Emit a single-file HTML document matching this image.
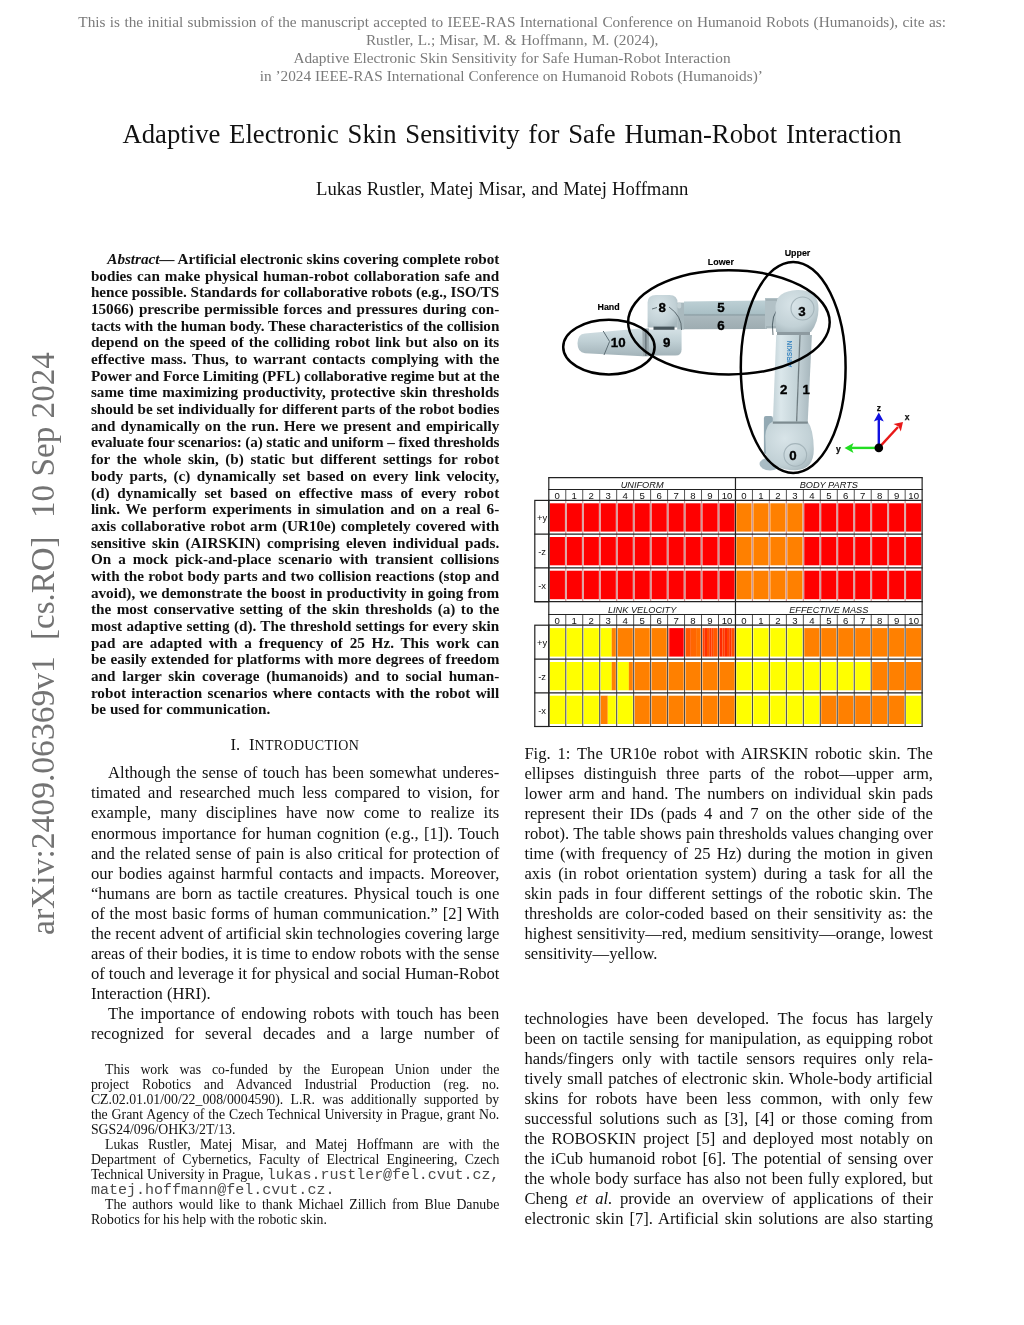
<!DOCTYPE html>
<html><head><meta charset="utf-8"><style>
html,body{margin:0;padding:0;background:#fff;}
body{width:1024px;height:1325px;position:relative;overflow:hidden;color:#111;will-change:transform;}
.j,.n{position:absolute;white-space:nowrap;}
.j{text-align:justify;text-align-last:justify;}
.n{text-align:left;}
.s{font-family:"Liberation Serif", serif;}
.a{font-family:"Liberation Sans", sans-serif;}
.m{font-family:"Liberation Mono", monospace;font-size:1.09em;color:#4a4a4a;}
.arx{position:absolute;font-family:"Liberation Serif", serif;font-size:33.6px;line-height:33.6px;color:#737373;white-space:pre;transform:rotate(-90deg);transform-origin:0 0;}
svg{position:absolute;left:0;top:0;}
</style></head><body>
<div class="j s" style="left:78.30px;top:14.00px;width:867.70px;font-size:15.3px;line-height:15.3px;color:#7a7a7a;">This is the initial submission of the manuscript accepted to IEEE-RAS International Conference on Humanoid Robots (Humanoids), cite as:</div>
<div class="j s" style="left:365.90px;top:32.00px;width:292.50px;font-size:15.3px;line-height:15.3px;color:#7a7a7a;">Rustler, L.; Misar, M. &amp; Hoffmann, M. (2024),</div>
<div class="j s" style="left:293.40px;top:50.00px;width:437.20px;font-size:15.3px;line-height:15.3px;color:#7a7a7a;letter-spacing:-0.020px;">Adaptive Electronic Skin Sensitivity for Safe Human-Robot Interaction</div>
<div class="j s" style="left:259.80px;top:68.00px;width:503.00px;font-size:15.3px;line-height:15.3px;color:#7a7a7a;letter-spacing:-0.020px;">in ’2024 IEEE-RAS International Conference on Humanoid Robots (Humanoids)’</div>
<div class="j s" style="left:122.50px;top:121.00px;width:779.00px;font-size:26.7px;line-height:26.7px;">Adaptive Electronic Skin Sensitivity for Safe Human-Robot Interaction</div>
<div class="j s" style="left:316.10px;top:180.00px;width:372.30px;font-size:18.7px;line-height:18.7px;">Lukas Rustler, Matej Misar, and Matej Hoffmann</div>
<div class="j s" style="left:107.30px;top:251.00px;width:392.00px;font-size:15.2px;line-height:15.2px;font-weight:bold;letter-spacing:-0.033px;"><i>Abstract</i>— Artificial electronic skins covering complete robot</div>
<div class="j s" style="left:90.90px;top:268.00px;width:408.40px;font-size:15.2px;line-height:15.2px;font-weight:bold;">bodies can make physical human-robot collaboration safe and</div>
<div class="j s" style="left:90.90px;top:284.00px;width:408.40px;font-size:15.2px;line-height:15.2px;font-weight:bold;letter-spacing:-0.034px;">hence possible. Standards for collaborative robots (e.g., ISO/TS</div>
<div class="j s" style="left:90.90px;top:301.00px;width:408.40px;font-size:15.2px;line-height:15.2px;font-weight:bold;">15066) prescribe permissible forces and pressures during con-</div>
<div class="j s" style="left:90.90px;top:318.00px;width:408.40px;font-size:15.2px;line-height:15.2px;font-weight:bold;letter-spacing:-0.069px;">tacts with the human body. These characteristics of the collision</div>
<div class="j s" style="left:90.90px;top:334.00px;width:408.40px;font-size:15.2px;line-height:15.2px;font-weight:bold;">depend on the speed of the colliding robot link but also on its</div>
<div class="j s" style="left:90.90px;top:351.00px;width:408.40px;font-size:15.2px;line-height:15.2px;font-weight:bold;">effective mass. Thus, to warrant contacts complying with the</div>
<div class="j s" style="left:90.90px;top:368.00px;width:408.40px;font-size:15.2px;line-height:15.2px;font-weight:bold;letter-spacing:-0.124px;">Power and Force Limiting (PFL) collaborative regime but at the</div>
<div class="j s" style="left:90.90px;top:384.00px;width:408.40px;font-size:15.2px;line-height:15.2px;font-weight:bold;">same time maximizing productivity, protective skin thresholds</div>
<div class="j s" style="left:90.90px;top:401.00px;width:408.40px;font-size:15.2px;line-height:15.2px;font-weight:bold;letter-spacing:-0.035px;">should be set individually for different parts of the robot bodies</div>
<div class="j s" style="left:90.90px;top:418.00px;width:408.40px;font-size:15.2px;line-height:15.2px;font-weight:bold;">and dynamically on the run. Here we present and empirically</div>
<div class="j s" style="left:90.90px;top:434.00px;width:408.40px;font-size:15.2px;line-height:15.2px;font-weight:bold;letter-spacing:-0.147px;">evaluate four scenarios: (a) static and uniform – fixed thresholds</div>
<div class="j s" style="left:90.90px;top:451.00px;width:408.40px;font-size:15.2px;line-height:15.2px;font-weight:bold;">for the whole skin, (b) static but different settings for robot</div>
<div class="j s" style="left:90.90px;top:468.00px;width:408.40px;font-size:15.2px;line-height:15.2px;font-weight:bold;">body parts, (c) dynamically set based on every link velocity,</div>
<div class="j s" style="left:90.90px;top:485.00px;width:408.40px;font-size:15.2px;line-height:15.2px;font-weight:bold;">(d) dynamically set based on effective mass of every robot</div>
<div class="j s" style="left:90.90px;top:501.00px;width:408.40px;font-size:15.2px;line-height:15.2px;font-weight:bold;">link. We perform experiments in simulation and on a real 6-</div>
<div class="j s" style="left:90.90px;top:518.00px;width:408.40px;font-size:15.2px;line-height:15.2px;font-weight:bold;">axis collaborative robot arm (UR10e) completely covered with</div>
<div class="j s" style="left:90.90px;top:535.00px;width:408.40px;font-size:15.2px;line-height:15.2px;font-weight:bold;">sensitive skin (AIRSKIN) comprising eleven individual pads.</div>
<div class="j s" style="left:90.90px;top:551.00px;width:408.40px;font-size:15.2px;line-height:15.2px;font-weight:bold;">On a mock pick-and-place scenario with transient collisions</div>
<div class="j s" style="left:90.90px;top:568.00px;width:408.40px;font-size:15.2px;line-height:15.2px;font-weight:bold;">with the robot body parts and two collision reactions (stop and</div>
<div class="j s" style="left:90.90px;top:585.00px;width:408.40px;font-size:15.2px;line-height:15.2px;font-weight:bold;">avoid), we demonstrate the boost in productivity in going from</div>
<div class="j s" style="left:90.90px;top:601.00px;width:408.40px;font-size:15.2px;line-height:15.2px;font-weight:bold;">the most conservative setting of the skin thresholds (a) to the</div>
<div class="j s" style="left:90.90px;top:618.00px;width:408.40px;font-size:15.2px;line-height:15.2px;font-weight:bold;">most adaptive setting (d). The threshold settings for every skin</div>
<div class="j s" style="left:90.90px;top:635.00px;width:408.40px;font-size:15.2px;line-height:15.2px;font-weight:bold;">pad are adapted with a frequency of 25 Hz. This work can</div>
<div class="j s" style="left:90.90px;top:651.00px;width:408.40px;font-size:15.2px;line-height:15.2px;font-weight:bold;">be easily extended for platforms with more degrees of freedom</div>
<div class="j s" style="left:90.90px;top:668.00px;width:408.40px;font-size:15.2px;line-height:15.2px;font-weight:bold;">and larger skin coverage (humanoids) and to social human-</div>
<div class="j s" style="left:90.90px;top:685.00px;width:408.40px;font-size:15.2px;line-height:15.2px;font-weight:bold;">robot interaction scenarios where contacts with the robot will</div>
<div class="n s" style="left:90.90px;top:701.00px;width:408.40px;font-size:15.2px;line-height:15.2px;font-weight:bold;">be used for communication.</div>
<div class="j s" style="left:230.50px;top:737.00px;width:128.70px;font-size:16.6px;line-height:16.6px;">I. I<span style="font-size:14px;letter-spacing:0.33px">NTRODUCTION</span></div>
<div class="j s" style="left:108.10px;top:765.00px;width:391.20px;font-size:16.6px;line-height:16.6px;">Although the sense of touch has been somewhat underes-</div>
<div class="j s" style="left:90.90px;top:785.00px;width:408.40px;font-size:16.6px;line-height:16.6px;">timated and researched much less compared to vision, for</div>
<div class="j s" style="left:90.90px;top:805.00px;width:408.40px;font-size:16.6px;line-height:16.6px;">example, many disciplines have now come to realize its</div>
<div class="j s" style="left:90.90px;top:826.00px;width:408.40px;font-size:16.6px;line-height:16.6px;">enormous importance for human cognition (e.g., [1]). Touch</div>
<div class="j s" style="left:90.90px;top:846.00px;width:408.40px;font-size:16.6px;line-height:16.6px;">and the related sense of pain is also critical for protection of</div>
<div class="j s" style="left:90.90px;top:866.00px;width:408.40px;font-size:16.6px;line-height:16.6px;">our bodies against harmful contacts and impacts. Moreover,</div>
<div class="j s" style="left:90.90px;top:886.00px;width:408.40px;font-size:16.6px;line-height:16.6px;">“humans are born as tactile creatures. Physical touch is one</div>
<div class="j s" style="left:90.90px;top:906.00px;width:408.40px;font-size:16.6px;line-height:16.6px;">of the most basic forms of human communication.” [2] With</div>
<div class="j s" style="left:90.90px;top:926.00px;width:408.40px;font-size:16.6px;line-height:16.6px;letter-spacing:-0.045px;">the recent advent of artificial skin technologies covering large</div>
<div class="j s" style="left:90.90px;top:946.00px;width:408.40px;font-size:16.6px;line-height:16.6px;letter-spacing:-0.030px;">areas of their bodies, it is time to endow robots with the sense</div>
<div class="j s" style="left:90.90px;top:966.00px;width:408.40px;font-size:16.6px;line-height:16.6px;letter-spacing:-0.031px;">of touch and leverage it for physical and social Human-Robot</div>
<div class="n s" style="left:90.90px;top:986.00px;width:408.40px;font-size:16.6px;line-height:16.6px;">Interaction (HRI).</div>
<div class="j s" style="left:108.10px;top:1006.00px;width:391.20px;font-size:16.6px;line-height:16.6px;">The importance of endowing robots with touch has been</div>
<div class="j s" style="left:90.90px;top:1026.00px;width:408.40px;font-size:16.6px;line-height:16.6px;">recognized for several decades and a large number of</div>
<div class="j s" style="left:105.00px;top:1063.00px;width:394.30px;font-size:13.8px;line-height:13.8px;">This work was co-funded by the European Union under the</div>
<div class="j s" style="left:90.90px;top:1078.00px;width:408.40px;font-size:13.8px;line-height:13.8px;">project Robotics and Advanced Industrial Production (reg. no.</div>
<div class="j s" style="left:90.90px;top:1093.00px;width:408.40px;font-size:13.8px;line-height:13.8px;">CZ.02.01.01/00/22_008/0004590). L.R. was additionally supported by</div>
<div class="j s" style="left:90.90px;top:1108.00px;width:408.40px;font-size:13.8px;line-height:13.8px;">the Grant Agency of the Czech Technical University in Prague, grant No.</div>
<div class="n s" style="left:90.90px;top:1123.00px;width:408.40px;font-size:13.8px;line-height:13.8px;">SGS24/096/OHK3/2T/13.</div>
<div class="j s" style="left:105.00px;top:1138.00px;width:394.30px;font-size:13.8px;line-height:13.8px;">Lukas Rustler, Matej Misar, and Matej Hoffmann are with the</div>
<div class="j s" style="left:90.90px;top:1153.00px;width:408.40px;font-size:13.8px;line-height:13.8px;">Department of Cybernetics, Faculty of Electrical Engineering, Czech</div>
<div class="j s" style="left:90.90px;top:1168.00px;width:408.40px;font-size:13.8px;line-height:13.8px;letter-spacing:-0.081px;">Technical University in Prague, <span class="m">lukas.rustler@fel.cvut.cz,</span></div>
<div class="n s" style="left:90.90px;top:1183.00px;width:408.40px;font-size:13.8px;line-height:13.8px;"><span class="m">matej.hoffmann@fel.cvut.cz.</span></div>
<div class="j s" style="left:105.00px;top:1198.00px;width:394.30px;font-size:13.8px;line-height:13.8px;">The authors would like to thank Michael Zillich from Blue Danube</div>
<div class="n s" style="left:90.90px;top:1213.00px;width:408.40px;font-size:13.8px;line-height:13.8px;">Robotics for his help with the robotic skin.</div>
<div class="j s" style="left:524.40px;top:746.00px;width:408.60px;font-size:16.6px;line-height:16.6px;">Fig. 1: The UR10e robot with AIRSKIN robotic skin. The</div>
<div class="j s" style="left:524.40px;top:766.00px;width:408.60px;font-size:16.6px;line-height:16.6px;">ellipses distinguish three parts of the robot—upper arm,</div>
<div class="j s" style="left:524.40px;top:786.00px;width:408.60px;font-size:16.6px;line-height:16.6px;">lower arm and hand. The numbers on individual skin pads</div>
<div class="j s" style="left:524.40px;top:806.00px;width:408.60px;font-size:16.6px;line-height:16.6px;">represent their IDs (pads 4 and 7 on the other side of the</div>
<div class="j s" style="left:524.40px;top:826.00px;width:408.60px;font-size:16.6px;line-height:16.6px;">robot). The table shows pain thresholds values changing over</div>
<div class="j s" style="left:524.40px;top:846.00px;width:408.60px;font-size:16.6px;line-height:16.6px;">time (with frequency of 25 Hz) during the motion in given</div>
<div class="j s" style="left:524.40px;top:866.00px;width:408.60px;font-size:16.6px;line-height:16.6px;">axis (in robot orientation system) during a task for all the</div>
<div class="j s" style="left:524.40px;top:886.00px;width:408.60px;font-size:16.6px;line-height:16.6px;">skin pads in four different settings of the robotic skin. The</div>
<div class="j s" style="left:524.40px;top:906.00px;width:408.60px;font-size:16.6px;line-height:16.6px;">thresholds are color-coded based on their sensitivity as: the</div>
<div class="j s" style="left:524.40px;top:926.00px;width:408.60px;font-size:16.6px;line-height:16.6px;">highest sensitivity—red, medium sensitivity—orange, lowest</div>
<div class="n s" style="left:524.40px;top:946.00px;width:408.60px;font-size:16.6px;line-height:16.6px;">sensitivity—yellow.</div>
<div class="j s" style="left:524.40px;top:1011.00px;width:408.60px;font-size:16.6px;line-height:16.6px;">technologies have been developed. The focus has largely</div>
<div class="j s" style="left:524.40px;top:1031.00px;width:408.60px;font-size:16.6px;line-height:16.6px;">been on tactile sensing for manipulation, as equipping robot</div>
<div class="j s" style="left:524.40px;top:1051.00px;width:408.60px;font-size:16.6px;line-height:16.6px;">hands/fingers only with tactile sensors requires only rela-</div>
<div class="j s" style="left:524.40px;top:1071.00px;width:408.60px;font-size:16.6px;line-height:16.6px;">tively small patches of electronic skin. Whole-body artificial</div>
<div class="j s" style="left:524.40px;top:1091.00px;width:408.60px;font-size:16.6px;line-height:16.6px;">skins for robots have been less common, with only few</div>
<div class="j s" style="left:524.40px;top:1111.00px;width:408.60px;font-size:16.6px;line-height:16.6px;">successful solutions such as [3], [4] or those coming from</div>
<div class="j s" style="left:524.40px;top:1131.00px;width:408.60px;font-size:16.6px;line-height:16.6px;">the ROBOSKIN project [5] and deployed most notably on</div>
<div class="j s" style="left:524.40px;top:1151.00px;width:408.60px;font-size:16.6px;line-height:16.6px;">the iCub humanoid robot [6]. The potential of sensing over</div>
<div class="j s" style="left:524.40px;top:1171.00px;width:408.60px;font-size:16.6px;line-height:16.6px;">the whole body surface has also not been fully explored, but</div>
<div class="j s" style="left:524.40px;top:1191.00px;width:408.60px;font-size:16.6px;line-height:16.6px;">Cheng <i>et al.</i> provide an overview of applications of their</div>
<div class="j s" style="left:524.40px;top:1211.00px;width:408.60px;font-size:16.6px;line-height:16.6px;">electronic skin [7]. Artificial skin solutions are also starting</div>
<div class="arx" style="left:25.5px;top:935.3px">arXiv:2409.06369v1</div><div class="arx" style="left:26.6px;top:640.3px;font-size:33px;line-height:33px">[cs.RO]</div><div class="arx" style="left:25.6px;top:518.2px;font-size:33.2px;line-height:33.2px">10 Sep 2024</div>
<svg width="1024" height="1325" viewBox="0 0 1024 1325">

<defs>
<linearGradient id="gv" x1="0" y1="0" x2="0" y2="1">
<stop offset="0" stop-color="#d3e0e4"/><stop offset="0.45" stop-color="#c0d0d5"/><stop offset="1" stop-color="#a3b3b9"/>
</linearGradient>
<linearGradient id="gt" x1="0" y1="0" x2="0" y2="1">
<stop offset="0" stop-color="#bdd0d5"/><stop offset="0.45" stop-color="#aac0c6"/><stop offset="0.5" stop-color="#8d9fa5"/><stop offset="0.55" stop-color="#aab8bd"/><stop offset="1" stop-color="#9dacb1"/>
</linearGradient>
<linearGradient id="gl" x1="0" y1="0" x2="1" y2="0">
<stop offset="0" stop-color="#c2d2d7"/><stop offset="0.3" stop-color="#dbe7eb"/><stop offset="1" stop-color="#bfcfd4"/>
</linearGradient>
<linearGradient id="grr" x1="0" y1="0" x2="1" y2="0">
<stop offset="0" stop-color="#c6d4d9"/><stop offset="1" stop-color="#a5b5bb"/>
</linearGradient>
<radialGradient id="gr" cx="0.4" cy="0.35" r="0.75">
<stop offset="0" stop-color="#d8e4e8"/><stop offset="0.7" stop-color="#c2d1d6"/><stop offset="1" stop-color="#a7b7bd"/>
</radialGradient>
</defs>
<!-- hand -->
<path d="M585 333.4 Q577.5 334 577.5 343.3 Q577.5 352.6 585 353.2 L642.5 356.3 L642.5 328.3 Z" fill="url(#gv)"/>
<path d="M603.2 331 L609.6 341.5 L604 355" fill="none" stroke="#5d6d74" stroke-width="1"/>
<rect x="642.3" y="328.4" width="6.8" height="27.9" fill="#9aa8ad"/>
<rect x="645" y="329" width="1.6" height="27" fill="#6f7c82"/>
<!-- joint 9 -->
<path d="M648.9 329.6 L681.6 329.6 L681.6 349.5 Q681.6 355.6 675.5 355.6 L648.9 355.6 Z" fill="url(#gv)"/>
<!-- joint 8 -->
<path d="M647.6 302.5 Q647.6 295 656 295 L669.5 295 Q677.5 295 677.5 303 L677.5 327.4 L647.6 327.4 Z" fill="url(#gr)"/>
<rect x="653.5" y="326.6" width="21" height="3.2" fill="#46545a"/>
<!-- connector -->
<rect x="677.2" y="302.6" width="7" height="27" fill="#a9b9be"/>
<rect x="677.2" y="302.6" width="4" height="6" rx="2" fill="#c4d1d5"/>
<!-- lower arm tube -->
<path d="M684 301.5 L767 300.5 L767 329 L684 329.3 Z" fill="url(#gt)"/>
<path d="M669 307 Q682 316 681.5 330" fill="none" stroke="#46545a" stroke-width="0.8"/>
<path d="M657 307.5 L652 309" fill="none" stroke="#46545a" stroke-width="0.8"/>
<!-- connector to joint3 -->
<rect x="765" y="298" width="13" height="30.5" fill="#b2c1c6"/>
<path d="M766 300 L777 300 L777 327 L766 327" fill="none" stroke="#8d9ca1" stroke-width="0.8"/>
<path d="M781 307 Q770 313 773 335" fill="none" stroke="#394a52" stroke-width="0.8"/>
<!-- upper arm -->
<path d="M776.2 335 L799.6 335 L796.2 424.8 L772.8 424.8 Z" fill="url(#gl)"/>
<path d="M800.2 335 L811.9 335 L807.6 424.8 L796.8 424.8 Z" fill="url(#grr)"/>
<line x1="800" y1="335" x2="796.5" y2="424.8" stroke="#6e7c81" stroke-width="1.3"/>
<rect x="777" y="332" width="33" height="3" fill="#8d9aa0"/>
<!-- joint 3 -->
<path d="M776 331.9 L775.5 306 Q776.5 291 797 290 Q818.5 289.5 818.5 309 Q818.5 322 811 331.9 Z" fill="url(#gr)"/>
<circle cx="802.5" cy="308.5" r="11.5" fill="none" stroke="#a4b4ba" stroke-width="1.1"/>
<!-- base -->
<rect x="763.9" y="415.9" width="9" height="38" rx="2" fill="#93a9b3"/>
<ellipse cx="770" cy="464" rx="10.5" ry="6.5" fill="#a9bcc5"/>
<path d="M772.8 421.4 L807.6 421.4 Q813.5 429 813.8 449 Q814 470 795 470.2 Q774 470.5 766 455 L765.3 436 Q766 424 772.8 421.4 Z" fill="url(#gr)"/>
<rect x="772.8" y="421.5" width="35" height="2.2" fill="#7d8b90"/>
<circle cx="795.3" cy="454.9" r="11.3" fill="none" stroke="#a4b4ba" stroke-width="1.1"/>
<text x="789.5" y="354" font-family="Liberation Sans" font-size="6.5" font-weight="bold" fill="#3a86c0" transform="rotate(-90 789.5 354)" text-anchor="middle" dy="2.3">AIRSKIN</text>

<text x="618.2" y="347.1" font-family="Liberation Sans" font-size="13.3" font-weight="bold" fill="#000" stroke="#000" stroke-width="0.35" text-anchor="middle">10</text>
<text x="666.6" y="347.1" font-family="Liberation Sans" font-size="13.3" font-weight="bold" fill="#000" stroke="#000" stroke-width="0.35" text-anchor="middle">9</text>
<text x="662.3" y="312.1" font-family="Liberation Sans" font-size="13.3" font-weight="bold" fill="#000" stroke="#000" stroke-width="0.35" text-anchor="middle">8</text>
<text x="721" y="311.6" font-family="Liberation Sans" font-size="13.3" font-weight="bold" fill="#000" stroke="#000" stroke-width="0.35" text-anchor="middle">5</text>
<text x="721" y="329.6" font-family="Liberation Sans" font-size="13.3" font-weight="bold" fill="#000" stroke="#000" stroke-width="0.35" text-anchor="middle">6</text>
<text x="802" y="315.6" font-family="Liberation Sans" font-size="13.3" font-weight="bold" fill="#000" stroke="#000" stroke-width="0.35" text-anchor="middle">3</text>
<text x="783.6" y="393.6" font-family="Liberation Sans" font-size="13.3" font-weight="bold" fill="#000" stroke="#000" stroke-width="0.35" text-anchor="middle">2</text>
<text x="806.2" y="393.6" font-family="Liberation Sans" font-size="13.3" font-weight="bold" fill="#000" stroke="#000" stroke-width="0.35" text-anchor="middle">1</text>
<text x="793" y="459.8" font-family="Liberation Sans" font-size="13.3" font-weight="bold" fill="#000" stroke="#000" stroke-width="0.35" text-anchor="middle">0</text>
<text x="608.6" y="310.3" font-family="Liberation Sans" font-size="8.9" font-weight="bold" fill="#000" stroke="#000" stroke-width="0.15" text-anchor="middle">Hand</text>
<text x="720.9" y="265" font-family="Liberation Sans" font-size="8.9" font-weight="bold" fill="#000" stroke="#000" stroke-width="0.15" text-anchor="middle">Lower</text>
<text x="797.5" y="256.1" font-family="Liberation Sans" font-size="8.9" font-weight="bold" fill="#000" stroke="#000" stroke-width="0.15" text-anchor="middle">Upper</text>

<ellipse cx="608.9" cy="347.1" rx="45.7" ry="27.3" fill="none" stroke="#000" stroke-width="2.5"/>
<ellipse cx="728.9" cy="322.3" rx="100.8" ry="52.1" fill="none" stroke="#000" stroke-width="2.5"/>
<ellipse cx="793.2" cy="367.4" rx="52.4" ry="105.5" fill="none" stroke="#000" stroke-width="2.5"/>


<line x1="878.8" y1="447.9" x2="878.8" y2="418" stroke="#1010e0" stroke-width="2.4"/>
<path d="M873.8 421.5 L878.8 412.5 L883.8 421.5 L878.8 419.5 Z" fill="#1010e0"/>
<line x1="878.8" y1="447.9" x2="850" y2="447.9" stroke="#22dd22" stroke-width="2.4"/>
<path d="M853.5 442.9 L844.5 447.9 L853.5 452.9 L851.5 447.9 Z" fill="#22dd22"/>
<line x1="878.8" y1="447.9" x2="898" y2="427" stroke="#e81818" stroke-width="2.4"/>
<path d="M893.5 424 L903 422 L900.8 431.5 L898.5 426.5 Z" fill="#e81818"/>
<circle cx="878.8" cy="447.9" r="4.3" fill="#000"/>
<text x="878.8" y="410.5" font-family="Liberation Sans" font-size="8.5" font-weight="bold" fill="#111" stroke="#111" stroke-width="0.25" text-anchor="middle">z</text>
<text x="838.3" y="451.5" font-family="Liberation Sans" font-size="8.5" font-weight="bold" fill="#111" stroke="#111" stroke-width="0.25" text-anchor="middle">y</text>
<text x="907" y="420" font-family="Liberation Sans" font-size="8.5" font-weight="bold" fill="#111" stroke="#111" stroke-width="0.25" text-anchor="middle">x</text>

<rect x="548.80" y="477.60" width="373.34" height="124.10" fill="#fff"/>
<rect x="549.70" y="503.30" width="15.22" height="28.30" fill="#ff0000"/>
<rect x="566.67" y="503.30" width="15.22" height="28.30" fill="#ff0000"/>
<rect x="583.64" y="503.30" width="15.22" height="28.30" fill="#ff0000"/>
<rect x="600.61" y="503.30" width="15.22" height="28.30" fill="#ff0000"/>
<rect x="617.58" y="503.30" width="15.22" height="28.30" fill="#ff0000"/>
<rect x="634.55" y="503.30" width="15.22" height="28.30" fill="#ff0000"/>
<rect x="651.52" y="503.30" width="15.22" height="28.30" fill="#ff0000"/>
<rect x="668.49" y="503.30" width="15.22" height="28.30" fill="#ff0000"/>
<rect x="685.46" y="503.30" width="15.22" height="28.30" fill="#ff0000"/>
<rect x="702.43" y="503.30" width="15.22" height="28.30" fill="#ff0000"/>
<rect x="719.40" y="503.30" width="15.22" height="28.30" fill="#ff0000"/>
<rect x="736.37" y="503.30" width="15.22" height="28.30" fill="#ff8000"/>
<rect x="753.34" y="503.30" width="15.22" height="28.30" fill="#ff8000"/>
<rect x="770.31" y="503.30" width="15.22" height="28.30" fill="#ff8000"/>
<rect x="787.28" y="503.30" width="15.22" height="28.30" fill="#ff8000"/>
<rect x="804.25" y="503.30" width="15.22" height="28.30" fill="#ff0000"/>
<rect x="821.22" y="503.30" width="15.22" height="28.30" fill="#ff0000"/>
<rect x="838.19" y="503.30" width="15.22" height="28.30" fill="#ff0000"/>
<rect x="855.16" y="503.30" width="15.22" height="28.30" fill="#ff0000"/>
<rect x="872.13" y="503.30" width="15.22" height="28.30" fill="#ff0000"/>
<rect x="889.10" y="503.30" width="15.22" height="28.30" fill="#ff0000"/>
<rect x="906.07" y="503.30" width="15.22" height="28.30" fill="#ff0000"/>
<rect x="549.70" y="537.00" width="15.22" height="28.30" fill="#ff0000"/>
<rect x="566.67" y="537.00" width="15.22" height="28.30" fill="#ff0000"/>
<rect x="583.64" y="537.00" width="15.22" height="28.30" fill="#ff0000"/>
<rect x="600.61" y="537.00" width="15.22" height="28.30" fill="#ff0000"/>
<rect x="617.58" y="537.00" width="15.22" height="28.30" fill="#ff0000"/>
<rect x="634.55" y="537.00" width="15.22" height="28.30" fill="#ff0000"/>
<rect x="651.52" y="537.00" width="15.22" height="28.30" fill="#ff0000"/>
<rect x="668.49" y="537.00" width="15.22" height="28.30" fill="#ff0000"/>
<rect x="685.46" y="537.00" width="15.22" height="28.30" fill="#ff0000"/>
<rect x="702.43" y="537.00" width="15.22" height="28.30" fill="#ff0000"/>
<rect x="719.40" y="537.00" width="15.22" height="28.30" fill="#ff0000"/>
<rect x="736.37" y="537.00" width="15.22" height="28.30" fill="#ff8000"/>
<rect x="753.34" y="537.00" width="15.22" height="28.30" fill="#ff8000"/>
<rect x="770.31" y="537.00" width="15.22" height="28.30" fill="#ff8000"/>
<rect x="787.28" y="537.00" width="15.22" height="28.30" fill="#ff8000"/>
<rect x="804.25" y="537.00" width="15.22" height="28.30" fill="#ff0000"/>
<rect x="821.22" y="537.00" width="15.22" height="28.30" fill="#ff0000"/>
<rect x="838.19" y="537.00" width="15.22" height="28.30" fill="#ff0000"/>
<rect x="855.16" y="537.00" width="15.22" height="28.30" fill="#ff0000"/>
<rect x="872.13" y="537.00" width="15.22" height="28.30" fill="#ff0000"/>
<rect x="889.10" y="537.00" width="15.22" height="28.30" fill="#ff0000"/>
<rect x="906.07" y="537.00" width="15.22" height="28.30" fill="#ff0000"/>
<rect x="549.70" y="570.70" width="15.22" height="28.50" fill="#ff0000"/>
<rect x="566.67" y="570.70" width="15.22" height="28.50" fill="#ff0000"/>
<rect x="583.64" y="570.70" width="15.22" height="28.50" fill="#ff0000"/>
<rect x="600.61" y="570.70" width="15.22" height="28.50" fill="#ff0000"/>
<rect x="617.58" y="570.70" width="15.22" height="28.50" fill="#ff0000"/>
<rect x="634.55" y="570.70" width="15.22" height="28.50" fill="#ff0000"/>
<rect x="651.52" y="570.70" width="15.22" height="28.50" fill="#ff0000"/>
<rect x="668.49" y="570.70" width="15.22" height="28.50" fill="#ff0000"/>
<rect x="685.46" y="570.70" width="15.22" height="28.50" fill="#ff0000"/>
<rect x="702.43" y="570.70" width="15.22" height="28.50" fill="#ff0000"/>
<rect x="719.40" y="570.70" width="15.22" height="28.50" fill="#ff0000"/>
<rect x="736.37" y="570.70" width="15.22" height="28.50" fill="#ff8000"/>
<rect x="753.34" y="570.70" width="15.22" height="28.50" fill="#ff8000"/>
<rect x="770.31" y="570.70" width="15.22" height="28.50" fill="#ff8000"/>
<rect x="787.28" y="570.70" width="15.22" height="28.50" fill="#ff8000"/>
<rect x="804.25" y="570.70" width="15.22" height="28.50" fill="#ff0000"/>
<rect x="821.22" y="570.70" width="15.22" height="28.50" fill="#ff0000"/>
<rect x="838.19" y="570.70" width="15.22" height="28.50" fill="#ff0000"/>
<rect x="855.16" y="570.70" width="15.22" height="28.50" fill="#ff0000"/>
<rect x="872.13" y="570.70" width="15.22" height="28.50" fill="#ff0000"/>
<rect x="889.10" y="570.70" width="15.22" height="28.50" fill="#ff0000"/>
<rect x="906.07" y="570.70" width="15.22" height="28.50" fill="#ff0000"/>
<line x1="565.77" y1="489.50" x2="565.77" y2="500.40" stroke="#555" stroke-width="1"/>
<line x1="565.77" y1="500.40" x2="565.77" y2="601.70" stroke="#c99" stroke-width="1.2"/>
<line x1="582.74" y1="489.50" x2="582.74" y2="500.40" stroke="#555" stroke-width="1"/>
<line x1="582.74" y1="500.40" x2="582.74" y2="601.70" stroke="#c99" stroke-width="1.2"/>
<line x1="599.71" y1="489.50" x2="599.71" y2="500.40" stroke="#555" stroke-width="1"/>
<line x1="599.71" y1="500.40" x2="599.71" y2="601.70" stroke="#c99" stroke-width="1.2"/>
<line x1="616.68" y1="489.50" x2="616.68" y2="500.40" stroke="#555" stroke-width="1"/>
<line x1="616.68" y1="500.40" x2="616.68" y2="601.70" stroke="#c99" stroke-width="1.2"/>
<line x1="633.65" y1="489.50" x2="633.65" y2="500.40" stroke="#555" stroke-width="1"/>
<line x1="633.65" y1="500.40" x2="633.65" y2="601.70" stroke="#c99" stroke-width="1.2"/>
<line x1="650.62" y1="489.50" x2="650.62" y2="500.40" stroke="#555" stroke-width="1"/>
<line x1="650.62" y1="500.40" x2="650.62" y2="601.70" stroke="#c99" stroke-width="1.2"/>
<line x1="667.59" y1="489.50" x2="667.59" y2="500.40" stroke="#555" stroke-width="1"/>
<line x1="667.59" y1="500.40" x2="667.59" y2="601.70" stroke="#c99" stroke-width="1.2"/>
<line x1="684.56" y1="489.50" x2="684.56" y2="500.40" stroke="#555" stroke-width="1"/>
<line x1="684.56" y1="500.40" x2="684.56" y2="601.70" stroke="#c99" stroke-width="1.2"/>
<line x1="701.53" y1="489.50" x2="701.53" y2="500.40" stroke="#555" stroke-width="1"/>
<line x1="701.53" y1="500.40" x2="701.53" y2="601.70" stroke="#c99" stroke-width="1.2"/>
<line x1="718.50" y1="489.50" x2="718.50" y2="500.40" stroke="#555" stroke-width="1"/>
<line x1="718.50" y1="500.40" x2="718.50" y2="601.70" stroke="#c99" stroke-width="1.2"/>
<line x1="752.44" y1="489.50" x2="752.44" y2="500.40" stroke="#555" stroke-width="1"/>
<line x1="752.44" y1="500.40" x2="752.44" y2="601.70" stroke="#c99" stroke-width="1.2"/>
<line x1="769.41" y1="489.50" x2="769.41" y2="500.40" stroke="#555" stroke-width="1"/>
<line x1="769.41" y1="500.40" x2="769.41" y2="601.70" stroke="#c99" stroke-width="1.2"/>
<line x1="786.38" y1="489.50" x2="786.38" y2="500.40" stroke="#555" stroke-width="1"/>
<line x1="786.38" y1="500.40" x2="786.38" y2="601.70" stroke="#c99" stroke-width="1.2"/>
<line x1="803.35" y1="489.50" x2="803.35" y2="500.40" stroke="#555" stroke-width="1"/>
<line x1="803.35" y1="500.40" x2="803.35" y2="601.70" stroke="#c99" stroke-width="1.2"/>
<line x1="820.32" y1="489.50" x2="820.32" y2="500.40" stroke="#555" stroke-width="1"/>
<line x1="820.32" y1="500.40" x2="820.32" y2="601.70" stroke="#c99" stroke-width="1.2"/>
<line x1="837.29" y1="489.50" x2="837.29" y2="500.40" stroke="#555" stroke-width="1"/>
<line x1="837.29" y1="500.40" x2="837.29" y2="601.70" stroke="#c99" stroke-width="1.2"/>
<line x1="854.26" y1="489.50" x2="854.26" y2="500.40" stroke="#555" stroke-width="1"/>
<line x1="854.26" y1="500.40" x2="854.26" y2="601.70" stroke="#c99" stroke-width="1.2"/>
<line x1="871.23" y1="489.50" x2="871.23" y2="500.40" stroke="#555" stroke-width="1"/>
<line x1="871.23" y1="500.40" x2="871.23" y2="601.70" stroke="#c99" stroke-width="1.2"/>
<line x1="888.20" y1="489.50" x2="888.20" y2="500.40" stroke="#555" stroke-width="1"/>
<line x1="888.20" y1="500.40" x2="888.20" y2="601.70" stroke="#c99" stroke-width="1.2"/>
<line x1="905.17" y1="489.50" x2="905.17" y2="500.40" stroke="#555" stroke-width="1"/>
<line x1="905.17" y1="500.40" x2="905.17" y2="601.70" stroke="#c99" stroke-width="1.2"/>
<rect x="534.80" y="500.40" width="14.00" height="101.30" fill="#fff" stroke="#222" stroke-width="1.2"/>
<line x1="548.20" y1="477.60" x2="922.74" y2="477.60" stroke="#222" stroke-width="1.2"/>
<line x1="548.20" y1="489.50" x2="922.74" y2="489.50" stroke="#222" stroke-width="1.2"/>
<line x1="548.20" y1="500.40" x2="922.74" y2="500.40" stroke="#222" stroke-width="1.2"/>
<line x1="534.20" y1="534.10" x2="922.74" y2="534.10" stroke="#222" stroke-width="1.2"/>
<line x1="534.20" y1="567.80" x2="922.74" y2="567.80" stroke="#222" stroke-width="1.2"/>
<line x1="534.20" y1="601.70" x2="922.74" y2="601.70" stroke="#222" stroke-width="1.2"/>
<line x1="548.80" y1="477.60" x2="548.80" y2="601.70" stroke="#222" stroke-width="1.2"/>
<line x1="735.47" y1="477.60" x2="735.47" y2="601.70" stroke="#222" stroke-width="1.2"/>
<line x1="922.14" y1="477.60" x2="922.14" y2="601.70" stroke="#222" stroke-width="1.2"/>
<text x="642.13" y="487.50" font-family="Liberation Sans" font-size="9.2" font-weight="normal" font-style="italic" fill="#111" text-anchor="middle">UNIFORM</text>
<text x="557.28" y="499.00" font-family="Liberation Sans" font-size="9.6" font-weight="normal" font-style="normal" fill="#111" text-anchor="middle">0</text>
<text x="574.25" y="499.00" font-family="Liberation Sans" font-size="9.6" font-weight="normal" font-style="normal" fill="#111" text-anchor="middle">1</text>
<text x="591.23" y="499.00" font-family="Liberation Sans" font-size="9.6" font-weight="normal" font-style="normal" fill="#111" text-anchor="middle">2</text>
<text x="608.19" y="499.00" font-family="Liberation Sans" font-size="9.6" font-weight="normal" font-style="normal" fill="#111" text-anchor="middle">3</text>
<text x="625.16" y="499.00" font-family="Liberation Sans" font-size="9.6" font-weight="normal" font-style="normal" fill="#111" text-anchor="middle">4</text>
<text x="642.13" y="499.00" font-family="Liberation Sans" font-size="9.6" font-weight="normal" font-style="normal" fill="#111" text-anchor="middle">5</text>
<text x="659.10" y="499.00" font-family="Liberation Sans" font-size="9.6" font-weight="normal" font-style="normal" fill="#111" text-anchor="middle">6</text>
<text x="676.07" y="499.00" font-family="Liberation Sans" font-size="9.6" font-weight="normal" font-style="normal" fill="#111" text-anchor="middle">7</text>
<text x="693.04" y="499.00" font-family="Liberation Sans" font-size="9.6" font-weight="normal" font-style="normal" fill="#111" text-anchor="middle">8</text>
<text x="710.01" y="499.00" font-family="Liberation Sans" font-size="9.6" font-weight="normal" font-style="normal" fill="#111" text-anchor="middle">9</text>
<text x="726.99" y="499.00" font-family="Liberation Sans" font-size="9.6" font-weight="normal" font-style="normal" fill="#111" text-anchor="middle">10</text>
<text x="828.80" y="487.50" font-family="Liberation Sans" font-size="9.2" font-weight="normal" font-style="italic" fill="#111" text-anchor="middle">BODY PARTS</text>
<text x="743.95" y="499.00" font-family="Liberation Sans" font-size="9.6" font-weight="normal" font-style="normal" fill="#111" text-anchor="middle">0</text>
<text x="760.92" y="499.00" font-family="Liberation Sans" font-size="9.6" font-weight="normal" font-style="normal" fill="#111" text-anchor="middle">1</text>
<text x="777.89" y="499.00" font-family="Liberation Sans" font-size="9.6" font-weight="normal" font-style="normal" fill="#111" text-anchor="middle">2</text>
<text x="794.86" y="499.00" font-family="Liberation Sans" font-size="9.6" font-weight="normal" font-style="normal" fill="#111" text-anchor="middle">3</text>
<text x="811.83" y="499.00" font-family="Liberation Sans" font-size="9.6" font-weight="normal" font-style="normal" fill="#111" text-anchor="middle">4</text>
<text x="828.80" y="499.00" font-family="Liberation Sans" font-size="9.6" font-weight="normal" font-style="normal" fill="#111" text-anchor="middle">5</text>
<text x="845.77" y="499.00" font-family="Liberation Sans" font-size="9.6" font-weight="normal" font-style="normal" fill="#111" text-anchor="middle">6</text>
<text x="862.75" y="499.00" font-family="Liberation Sans" font-size="9.6" font-weight="normal" font-style="normal" fill="#111" text-anchor="middle">7</text>
<text x="879.71" y="499.00" font-family="Liberation Sans" font-size="9.6" font-weight="normal" font-style="normal" fill="#111" text-anchor="middle">8</text>
<text x="896.68" y="499.00" font-family="Liberation Sans" font-size="9.6" font-weight="normal" font-style="normal" fill="#111" text-anchor="middle">9</text>
<text x="913.65" y="499.00" font-family="Liberation Sans" font-size="9.6" font-weight="normal" font-style="normal" fill="#111" text-anchor="middle">10</text>
<text x="542.10" y="521.45" font-family="Liberation Sans" font-size="9.4" font-weight="normal" font-style="normal" fill="#111" text-anchor="middle">+y</text>
<text x="542.10" y="555.15" font-family="Liberation Sans" font-size="9.4" font-weight="normal" font-style="normal" fill="#111" text-anchor="middle">-z</text>
<text x="542.10" y="588.95" font-family="Liberation Sans" font-size="9.4" font-weight="normal" font-style="normal" fill="#111" text-anchor="middle">-x</text>
<rect x="548.80" y="601.70" width="373.34" height="124.80" fill="#fff"/>
<rect x="549.70" y="628.10" width="15.22" height="28.50" fill="#ffff00"/>
<rect x="566.67" y="628.10" width="15.22" height="28.50" fill="#ffff00"/>
<rect x="583.64" y="628.10" width="15.22" height="28.50" fill="#ffff00"/>
<rect x="600.61" y="628.10" width="11.12" height="28.50" fill="#ffff00"/>
<rect x="611.68" y="628.10" width="4.15" height="28.50" fill="#ff8000"/>
<rect x="617.58" y="628.10" width="15.22" height="28.50" fill="#ff8000"/>
<rect x="634.55" y="628.10" width="15.22" height="28.50" fill="#ff8000"/>
<rect x="651.52" y="628.10" width="15.22" height="28.50" fill="#ff8000"/>
<rect x="668.49" y="628.10" width="1.26" height="28.50" fill="#ff2000"/>
<rect x="669.70" y="628.10" width="14.01" height="28.50" fill="#ff0000"/>
<rect x="685.46" y="628.10" width="5.36" height="28.50" fill="#ff5500"/>
<rect x="690.77" y="628.10" width="5.36" height="28.50" fill="#ff6600"/>
<rect x="696.08" y="628.10" width="4.60" height="28.50" fill="#ff7000"/>
<rect x="702.43" y="628.10" width="2.33" height="28.50" fill="#ff4400"/>
<rect x="704.71" y="628.10" width="2.33" height="28.50" fill="#ff3000"/>
<rect x="706.98" y="628.10" width="2.33" height="28.50" fill="#ff5000"/>
<rect x="709.26" y="628.10" width="2.33" height="28.50" fill="#ff3500"/>
<rect x="711.53" y="628.10" width="2.33" height="28.50" fill="#ff4a00"/>
<rect x="713.81" y="628.10" width="3.84" height="28.50" fill="#ff5a00"/>
<rect x="719.40" y="628.10" width="3.08" height="28.50" fill="#ff2a00"/>
<rect x="722.43" y="628.10" width="2.33" height="28.50" fill="#ff4000"/>
<rect x="724.71" y="628.10" width="2.33" height="28.50" fill="#ff2a00"/>
<rect x="726.99" y="628.10" width="2.33" height="28.50" fill="#ff4500"/>
<rect x="729.26" y="628.10" width="2.33" height="28.50" fill="#ff3000"/>
<rect x="731.54" y="628.10" width="3.08" height="28.50" fill="#ff5000"/>
<rect x="736.37" y="628.10" width="15.22" height="28.50" fill="#ffff00"/>
<rect x="753.34" y="628.10" width="15.22" height="28.50" fill="#ffff00"/>
<rect x="770.31" y="628.10" width="15.22" height="28.50" fill="#ffff00"/>
<rect x="787.28" y="628.10" width="15.22" height="28.50" fill="#ffff00"/>
<rect x="804.25" y="628.10" width="15.22" height="28.50" fill="#ff8000"/>
<rect x="821.22" y="628.10" width="15.22" height="28.50" fill="#ff8000"/>
<rect x="838.19" y="628.10" width="15.22" height="28.50" fill="#ff8000"/>
<rect x="855.16" y="628.10" width="15.22" height="28.50" fill="#ff8000"/>
<rect x="872.13" y="628.10" width="15.22" height="28.50" fill="#ff8000"/>
<rect x="889.10" y="628.10" width="15.22" height="28.50" fill="#ff8000"/>
<rect x="906.07" y="628.10" width="15.22" height="28.50" fill="#ff8000"/>
<rect x="549.70" y="662.00" width="15.22" height="28.30" fill="#ffff00"/>
<rect x="566.67" y="662.00" width="15.22" height="28.30" fill="#ffff00"/>
<rect x="583.64" y="662.00" width="15.22" height="28.30" fill="#ffff00"/>
<rect x="600.61" y="662.00" width="11.12" height="28.30" fill="#ffff00"/>
<rect x="611.68" y="662.00" width="4.15" height="28.30" fill="#ff8000"/>
<rect x="617.58" y="662.00" width="11.28" height="28.30" fill="#ffff00"/>
<rect x="628.81" y="662.00" width="3.99" height="28.30" fill="#ff8000"/>
<rect x="634.55" y="662.00" width="15.22" height="28.30" fill="#ff8000"/>
<rect x="651.52" y="662.00" width="15.22" height="28.30" fill="#ff8000"/>
<rect x="668.49" y="662.00" width="15.22" height="28.30" fill="#ff8000"/>
<rect x="685.46" y="662.00" width="15.22" height="28.30" fill="#ff8000"/>
<rect x="702.43" y="662.00" width="15.22" height="28.30" fill="#ff8000"/>
<rect x="719.40" y="662.00" width="15.22" height="28.30" fill="#ff8000"/>
<rect x="736.37" y="662.00" width="15.22" height="28.30" fill="#ffff00"/>
<rect x="753.34" y="662.00" width="15.22" height="28.30" fill="#ffff00"/>
<rect x="770.31" y="662.00" width="15.22" height="28.30" fill="#ffff00"/>
<rect x="787.28" y="662.00" width="15.22" height="28.30" fill="#ffff00"/>
<rect x="804.25" y="662.00" width="15.22" height="28.30" fill="#ffff00"/>
<rect x="821.22" y="662.00" width="15.22" height="28.30" fill="#ffff00"/>
<rect x="838.19" y="662.00" width="15.22" height="28.30" fill="#ffff00"/>
<rect x="855.16" y="662.00" width="15.22" height="28.30" fill="#ffff00"/>
<rect x="872.13" y="662.00" width="15.22" height="28.30" fill="#ff8000"/>
<rect x="889.10" y="662.00" width="15.22" height="28.30" fill="#ff8000"/>
<rect x="906.07" y="662.00" width="15.22" height="28.30" fill="#ff8000"/>
<rect x="549.70" y="695.70" width="15.22" height="28.30" fill="#ffff00"/>
<rect x="566.67" y="695.70" width="15.22" height="28.30" fill="#ffff00"/>
<rect x="583.64" y="695.70" width="15.22" height="28.30" fill="#ffff00"/>
<rect x="600.61" y="695.70" width="7.18" height="28.30" fill="#ff8000"/>
<rect x="607.74" y="695.70" width="8.09" height="28.30" fill="#ffff00"/>
<rect x="617.58" y="695.70" width="15.22" height="28.30" fill="#ffff00"/>
<rect x="634.55" y="695.70" width="15.22" height="28.30" fill="#ff8000"/>
<rect x="651.52" y="695.70" width="15.22" height="28.30" fill="#ff8000"/>
<rect x="668.49" y="695.70" width="15.22" height="28.30" fill="#ff8000"/>
<rect x="685.46" y="695.70" width="15.22" height="28.30" fill="#ff8000"/>
<rect x="702.43" y="695.70" width="15.22" height="28.30" fill="#ff8000"/>
<rect x="719.40" y="695.70" width="15.22" height="28.30" fill="#ff8000"/>
<rect x="736.37" y="695.70" width="15.22" height="28.30" fill="#ffff00"/>
<rect x="753.34" y="695.70" width="15.22" height="28.30" fill="#ffff00"/>
<rect x="770.31" y="695.70" width="15.22" height="28.30" fill="#ffff00"/>
<rect x="787.28" y="695.70" width="15.22" height="28.30" fill="#ffff00"/>
<rect x="804.25" y="695.70" width="15.22" height="28.30" fill="#ffff00"/>
<rect x="821.22" y="695.70" width="15.22" height="28.30" fill="#ff8000"/>
<rect x="838.19" y="695.70" width="15.22" height="28.30" fill="#ff8000"/>
<rect x="855.16" y="695.70" width="15.22" height="28.30" fill="#ff8000"/>
<rect x="872.13" y="695.70" width="15.22" height="28.30" fill="#ff8000"/>
<rect x="889.10" y="695.70" width="15.22" height="28.30" fill="#ff8000"/>
<rect x="906.07" y="695.70" width="15.22" height="28.30" fill="#ffff00"/>
<line x1="565.77" y1="614.50" x2="565.77" y2="625.20" stroke="#555" stroke-width="1"/>
<line x1="565.77" y1="625.20" x2="565.77" y2="726.50" stroke="#444" stroke-width="1"/>
<line x1="582.74" y1="614.50" x2="582.74" y2="625.20" stroke="#555" stroke-width="1"/>
<line x1="582.74" y1="625.20" x2="582.74" y2="726.50" stroke="#444" stroke-width="1"/>
<line x1="599.71" y1="614.50" x2="599.71" y2="625.20" stroke="#555" stroke-width="1"/>
<line x1="599.71" y1="625.20" x2="599.71" y2="726.50" stroke="#444" stroke-width="1"/>
<line x1="616.68" y1="614.50" x2="616.68" y2="625.20" stroke="#555" stroke-width="1"/>
<line x1="616.68" y1="625.20" x2="616.68" y2="726.50" stroke="#444" stroke-width="1"/>
<line x1="633.65" y1="614.50" x2="633.65" y2="625.20" stroke="#555" stroke-width="1"/>
<line x1="633.65" y1="625.20" x2="633.65" y2="726.50" stroke="#444" stroke-width="1"/>
<line x1="650.62" y1="614.50" x2="650.62" y2="625.20" stroke="#555" stroke-width="1"/>
<line x1="650.62" y1="625.20" x2="650.62" y2="726.50" stroke="#444" stroke-width="1"/>
<line x1="667.59" y1="614.50" x2="667.59" y2="625.20" stroke="#555" stroke-width="1"/>
<line x1="667.59" y1="625.20" x2="667.59" y2="726.50" stroke="#444" stroke-width="1"/>
<line x1="684.56" y1="614.50" x2="684.56" y2="625.20" stroke="#555" stroke-width="1"/>
<line x1="684.56" y1="625.20" x2="684.56" y2="726.50" stroke="#444" stroke-width="1"/>
<line x1="701.53" y1="614.50" x2="701.53" y2="625.20" stroke="#555" stroke-width="1"/>
<line x1="701.53" y1="625.20" x2="701.53" y2="726.50" stroke="#444" stroke-width="1"/>
<line x1="718.50" y1="614.50" x2="718.50" y2="625.20" stroke="#555" stroke-width="1"/>
<line x1="718.50" y1="625.20" x2="718.50" y2="726.50" stroke="#444" stroke-width="1"/>
<line x1="752.44" y1="614.50" x2="752.44" y2="625.20" stroke="#555" stroke-width="1"/>
<line x1="752.44" y1="625.20" x2="752.44" y2="726.50" stroke="#444" stroke-width="1"/>
<line x1="769.41" y1="614.50" x2="769.41" y2="625.20" stroke="#555" stroke-width="1"/>
<line x1="769.41" y1="625.20" x2="769.41" y2="726.50" stroke="#444" stroke-width="1"/>
<line x1="786.38" y1="614.50" x2="786.38" y2="625.20" stroke="#555" stroke-width="1"/>
<line x1="786.38" y1="625.20" x2="786.38" y2="726.50" stroke="#444" stroke-width="1"/>
<line x1="803.35" y1="614.50" x2="803.35" y2="625.20" stroke="#555" stroke-width="1"/>
<line x1="803.35" y1="625.20" x2="803.35" y2="726.50" stroke="#444" stroke-width="1"/>
<line x1="820.32" y1="614.50" x2="820.32" y2="625.20" stroke="#555" stroke-width="1"/>
<line x1="820.32" y1="625.20" x2="820.32" y2="726.50" stroke="#444" stroke-width="1"/>
<line x1="837.29" y1="614.50" x2="837.29" y2="625.20" stroke="#555" stroke-width="1"/>
<line x1="837.29" y1="625.20" x2="837.29" y2="726.50" stroke="#444" stroke-width="1"/>
<line x1="854.26" y1="614.50" x2="854.26" y2="625.20" stroke="#555" stroke-width="1"/>
<line x1="854.26" y1="625.20" x2="854.26" y2="726.50" stroke="#444" stroke-width="1"/>
<line x1="871.23" y1="614.50" x2="871.23" y2="625.20" stroke="#555" stroke-width="1"/>
<line x1="871.23" y1="625.20" x2="871.23" y2="726.50" stroke="#444" stroke-width="1"/>
<line x1="888.20" y1="614.50" x2="888.20" y2="625.20" stroke="#555" stroke-width="1"/>
<line x1="888.20" y1="625.20" x2="888.20" y2="726.50" stroke="#444" stroke-width="1"/>
<line x1="905.17" y1="614.50" x2="905.17" y2="625.20" stroke="#555" stroke-width="1"/>
<line x1="905.17" y1="625.20" x2="905.17" y2="726.50" stroke="#444" stroke-width="1"/>
<rect x="534.80" y="625.20" width="14.00" height="101.30" fill="#fff" stroke="#222" stroke-width="1.2"/>
<line x1="548.20" y1="601.70" x2="922.74" y2="601.70" stroke="#222" stroke-width="1.2"/>
<line x1="548.20" y1="614.50" x2="922.74" y2="614.50" stroke="#222" stroke-width="1.2"/>
<line x1="548.20" y1="625.20" x2="922.74" y2="625.20" stroke="#222" stroke-width="1.2"/>
<line x1="534.20" y1="659.10" x2="922.74" y2="659.10" stroke="#222" stroke-width="1.2"/>
<line x1="534.20" y1="692.80" x2="922.74" y2="692.80" stroke="#222" stroke-width="1.2"/>
<line x1="534.20" y1="726.50" x2="922.74" y2="726.50" stroke="#222" stroke-width="1.2"/>
<line x1="548.80" y1="601.70" x2="548.80" y2="726.50" stroke="#222" stroke-width="1.2"/>
<line x1="735.47" y1="601.70" x2="735.47" y2="726.50" stroke="#222" stroke-width="1.2"/>
<line x1="922.14" y1="601.70" x2="922.14" y2="726.50" stroke="#222" stroke-width="1.2"/>
<text x="642.13" y="612.50" font-family="Liberation Sans" font-size="9.2" font-weight="normal" font-style="italic" fill="#111" text-anchor="middle">LINK VELOCITY</text>
<text x="557.28" y="623.80" font-family="Liberation Sans" font-size="9.6" font-weight="normal" font-style="normal" fill="#111" text-anchor="middle">0</text>
<text x="574.25" y="623.80" font-family="Liberation Sans" font-size="9.6" font-weight="normal" font-style="normal" fill="#111" text-anchor="middle">1</text>
<text x="591.23" y="623.80" font-family="Liberation Sans" font-size="9.6" font-weight="normal" font-style="normal" fill="#111" text-anchor="middle">2</text>
<text x="608.19" y="623.80" font-family="Liberation Sans" font-size="9.6" font-weight="normal" font-style="normal" fill="#111" text-anchor="middle">3</text>
<text x="625.16" y="623.80" font-family="Liberation Sans" font-size="9.6" font-weight="normal" font-style="normal" fill="#111" text-anchor="middle">4</text>
<text x="642.13" y="623.80" font-family="Liberation Sans" font-size="9.6" font-weight="normal" font-style="normal" fill="#111" text-anchor="middle">5</text>
<text x="659.10" y="623.80" font-family="Liberation Sans" font-size="9.6" font-weight="normal" font-style="normal" fill="#111" text-anchor="middle">6</text>
<text x="676.07" y="623.80" font-family="Liberation Sans" font-size="9.6" font-weight="normal" font-style="normal" fill="#111" text-anchor="middle">7</text>
<text x="693.04" y="623.80" font-family="Liberation Sans" font-size="9.6" font-weight="normal" font-style="normal" fill="#111" text-anchor="middle">8</text>
<text x="710.01" y="623.80" font-family="Liberation Sans" font-size="9.6" font-weight="normal" font-style="normal" fill="#111" text-anchor="middle">9</text>
<text x="726.99" y="623.80" font-family="Liberation Sans" font-size="9.6" font-weight="normal" font-style="normal" fill="#111" text-anchor="middle">10</text>
<text x="828.80" y="612.50" font-family="Liberation Sans" font-size="9.2" font-weight="normal" font-style="italic" fill="#111" text-anchor="middle">EFFECTIVE MASS</text>
<text x="743.95" y="623.80" font-family="Liberation Sans" font-size="9.6" font-weight="normal" font-style="normal" fill="#111" text-anchor="middle">0</text>
<text x="760.92" y="623.80" font-family="Liberation Sans" font-size="9.6" font-weight="normal" font-style="normal" fill="#111" text-anchor="middle">1</text>
<text x="777.89" y="623.80" font-family="Liberation Sans" font-size="9.6" font-weight="normal" font-style="normal" fill="#111" text-anchor="middle">2</text>
<text x="794.86" y="623.80" font-family="Liberation Sans" font-size="9.6" font-weight="normal" font-style="normal" fill="#111" text-anchor="middle">3</text>
<text x="811.83" y="623.80" font-family="Liberation Sans" font-size="9.6" font-weight="normal" font-style="normal" fill="#111" text-anchor="middle">4</text>
<text x="828.80" y="623.80" font-family="Liberation Sans" font-size="9.6" font-weight="normal" font-style="normal" fill="#111" text-anchor="middle">5</text>
<text x="845.77" y="623.80" font-family="Liberation Sans" font-size="9.6" font-weight="normal" font-style="normal" fill="#111" text-anchor="middle">6</text>
<text x="862.75" y="623.80" font-family="Liberation Sans" font-size="9.6" font-weight="normal" font-style="normal" fill="#111" text-anchor="middle">7</text>
<text x="879.71" y="623.80" font-family="Liberation Sans" font-size="9.6" font-weight="normal" font-style="normal" fill="#111" text-anchor="middle">8</text>
<text x="896.68" y="623.80" font-family="Liberation Sans" font-size="9.6" font-weight="normal" font-style="normal" fill="#111" text-anchor="middle">9</text>
<text x="913.65" y="623.80" font-family="Liberation Sans" font-size="9.6" font-weight="normal" font-style="normal" fill="#111" text-anchor="middle">10</text>
<text x="542.10" y="646.35" font-family="Liberation Sans" font-size="9.4" font-weight="normal" font-style="normal" fill="#111" text-anchor="middle">+y</text>
<text x="542.10" y="680.15" font-family="Liberation Sans" font-size="9.4" font-weight="normal" font-style="normal" fill="#111" text-anchor="middle">-z</text>
<text x="542.10" y="713.85" font-family="Liberation Sans" font-size="9.4" font-weight="normal" font-style="normal" fill="#111" text-anchor="middle">-x</text>
</svg>
</body></html>
